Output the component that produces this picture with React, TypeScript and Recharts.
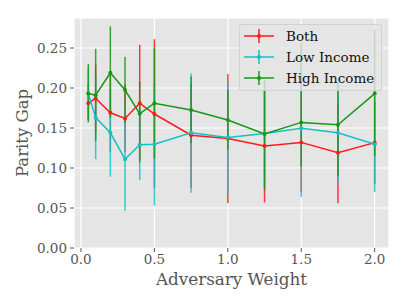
import React from 'react';
import { LineChart, Line, XAxis, YAxis, CartesianGrid, ErrorBar, Label } from 'recharts';

const weights = [0.05, 0.1, 0.2, 0.3, 0.4, 0.5, 0.75, 1.0, 1.25, 1.5, 1.75, 2.0];

const bothMean = [0.181, 0.187, 0.169, 0.162, 0.181, 0.1675, 0.141, 0.137, 0.1275, 0.132, 0.119, 0.1317];
const bothLow = [0.16, 0.145, 0.12, 0.12, 0.11, 0.075, 0.075, 0.056, 0.057, 0.07, 0.056, 0.08];
const bothHigh = [0.205, 0.229, 0.22, 0.205, 0.254, 0.261, 0.205, 0.2175, 0.198, 0.195, 0.182, 0.183];

const lowMean = [0.193, 0.163, 0.144, 0.111, 0.129, 0.1296, 0.144, 0.138, 0.143, 0.1496, 0.144, 0.1296];
const lowLow = [0.16, 0.111, 0.089, 0.047, 0.085, 0.053, 0.069, 0.066, 0.078, 0.064, 0.081, 0.07];
const lowHigh = [0.225, 0.215, 0.2, 0.175, 0.173, 0.206, 0.218, 0.208, 0.208, 0.245, 0.207, 0.19];

const highMean = [0.193, 0.191, 0.219, 0.1975, 0.168, 0.181, 0.1725, 0.16, 0.1425, 0.157, 0.154, 0.193];
const highLow = [0.157, 0.134, 0.163, 0.156, 0.107, 0.112, 0.131, 0.1225, 0.0725, 0.1025, 0.09, 0.115];
const highHigh = [0.23, 0.249, 0.277, 0.239, 0.208, 0.25, 0.214, 0.1975, 0.21, 0.256, 0.206, 0.2725];

const xTicks = [0, 0.5, 1.0, 1.5, 2.0];
const yTicks = [0, 0.05, 0.1, 0.15, 0.2, 0.25];

const series = [
  { key: 'both', name: 'Both', color: '#ff1a1a' },
  { key: 'low', name: 'Low Income', color: '#14c2c2' },
  { key: 'high', name: 'High Income', color: '#179717' },
];

const data = weights.map((w, i) => ({
  x: w,
  both: bothMean[i],
  bothErr: [bothMean[i] - bothLow[i], bothHigh[i] - bothMean[i]],
  low: lowMean[i],
  lowErr: [lowMean[i] - lowLow[i], lowHigh[i] - lowMean[i]],
  high: highMean[i],
  highErr: [highMean[i] - highLow[i], highHigh[i] - highMean[i]],
}));

const FONT = '"DejaVu Serif", serif';
const tickStyle = { fontSize: 13.5, fill: '#555', fontFamily: FONT };

const YTitle = (props: any) => {
  const vb = props.viewBox;
  const cx = 22;
  const cy = vb.y + vb.height / 2;
  return (
    <text x={cx} y={cy} transform={`rotate(-90 ${cx} ${cy})`} textAnchor="middle" dominantBaseline="central"
      fontSize={16.5} fill="#555" fontFamily={FONT}>Parity Gap</text>
  );
};

const XTitle = (props: any) => {
  const vb = props.viewBox;
  return (
    <text x={vb.x + vb.width / 2} y={279} textAnchor="middle" dominantBaseline="central"
      fontSize={16.8} fill="#555" fontFamily={FONT}>Adversary Weight</text>
  );
};

const LegendIcon = ({ color }: { color: string }) => (
  <svg width={30} height={16} style={{ display: 'block' }}>
    <line x1={0} y1={8} x2={30} y2={8} stroke={color} strokeWidth={1.5} />
    <line x1={15} y1={1} x2={15} y2={15} stroke={color} strokeWidth={1.5} />
    <circle cx={15} cy={8} r={2} fill={color} />
  </svg>
);

export default function App() {
  return (
    <div style={{ position: 'absolute', left: 0, top: 0, width: 407, height: 305, background: '#fff' }}>
      <LineChart width={407} height={305} data={data} margin={{ top: 18, right: 18, bottom: 0, left: 0 }}>
        <CartesianGrid fill="#e5e5e5" stroke="#ffffff" strokeWidth={1.2} />
        <XAxis dataKey="x" type="number" domain={[-0.0475, 2.0975]} ticks={xTicks} allowDataOverflow
          tickFormatter={(v: number) => v.toFixed(1)} axisLine={false} tickSize={4} tickMargin={2}
          tickLine={{ stroke: '#555' }} tick={tickStyle} height={57} interval={0}>
          <Label content={XTitle} />
        </XAxis>
        <YAxis type="number" domain={[0, 0.2875]} ticks={yTicks} allowDataOverflow
          tickFormatter={(v: number) => v.toFixed(2)} axisLine={false} tickSize={4} tickMargin={3}
          tickLine={{ stroke: '#555' }} tick={tickStyle} width={74} interval={0}>
          <Label content={YTitle} />
        </YAxis>
        {/* error bars first, so every line sits above them */}
        {series.map(s => (
          <Line key={`${s.key}-err`} dataKey={s.key} stroke="none" dot={false} activeDot={false}
            isAnimationActive={false} legendType="none">
            <ErrorBar dataKey={`${s.key}Err`} direction="y" width={0} stroke={s.color} strokeWidth={1.5}
              strokeOpacity={0.85} />
          </Line>
        ))}
        {series.map(s => (
          <Line key={s.key} dataKey={s.key} name={s.name} stroke={s.color} strokeWidth={1.5}
            dot={{ r: 2, fill: s.color, stroke: s.color, strokeWidth: 0 }} activeDot={false}
            isAnimationActive={false} type="linear" />
        ))}
      </LineChart>
      <div style={{
        position: 'absolute', left: 239, top: 24, width: 143, height: 67, boxSizing: 'border-box',
        background: 'rgba(229,229,229,0.8)', border: '1px solid rgba(204,204,204,0.8)', borderRadius: 3,
        fontFamily: FONT, fontSize: 13.5, color: '#111',
      }}>
        {series.map((s, i) => (
          <div key={s.key} style={{ position: 'absolute', left: 4, top: 3 + i * 21, height: 16, display: 'flex', alignItems: 'center' }}>
            <LegendIcon color={s.color} />
            <span style={{ marginLeft: 12, whiteSpace: 'nowrap' }}>{s.name}</span>
          </div>
        ))}
      </div>
    </div>
  );
}
